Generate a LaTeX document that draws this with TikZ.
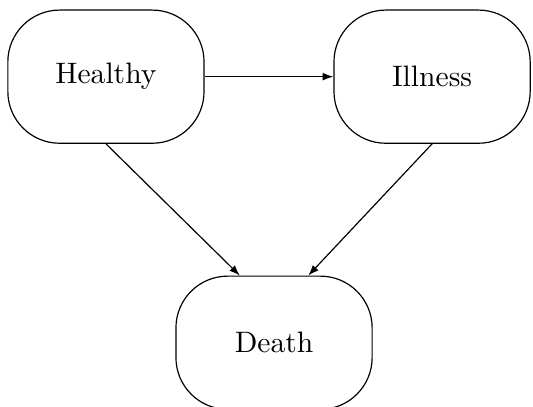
\documentclass[tikz,border=0pt]{standalone}
\usepackage{tikz}
\usetikzlibrary{arrows.meta,positioning}

\begin{document}
\begin{tikzpicture}[x=1pt,y=1pt,>={Latex[length=3.6pt,width=2.6pt]}]
\useasboundingbox (0,0) rectangle (180.1,-137.5);
\tikzset{state/.style={draw,rounded corners=17.5pt,minimum width=66.3pt,minimum height=45pt}}
\node[state] (H) at (35.8,-25.9) {Healthy};
\node[state] (I) at (146.0,-25.9) {Illness};
\node[state] (D) at (92.6,-115.8) {Death};
\draw[->] (H) -- (I);
\draw[->] (H.south) -- (D.117);
\draw[->] (I.south) -- (D.63);
\end{tikzpicture}
\end{document}
